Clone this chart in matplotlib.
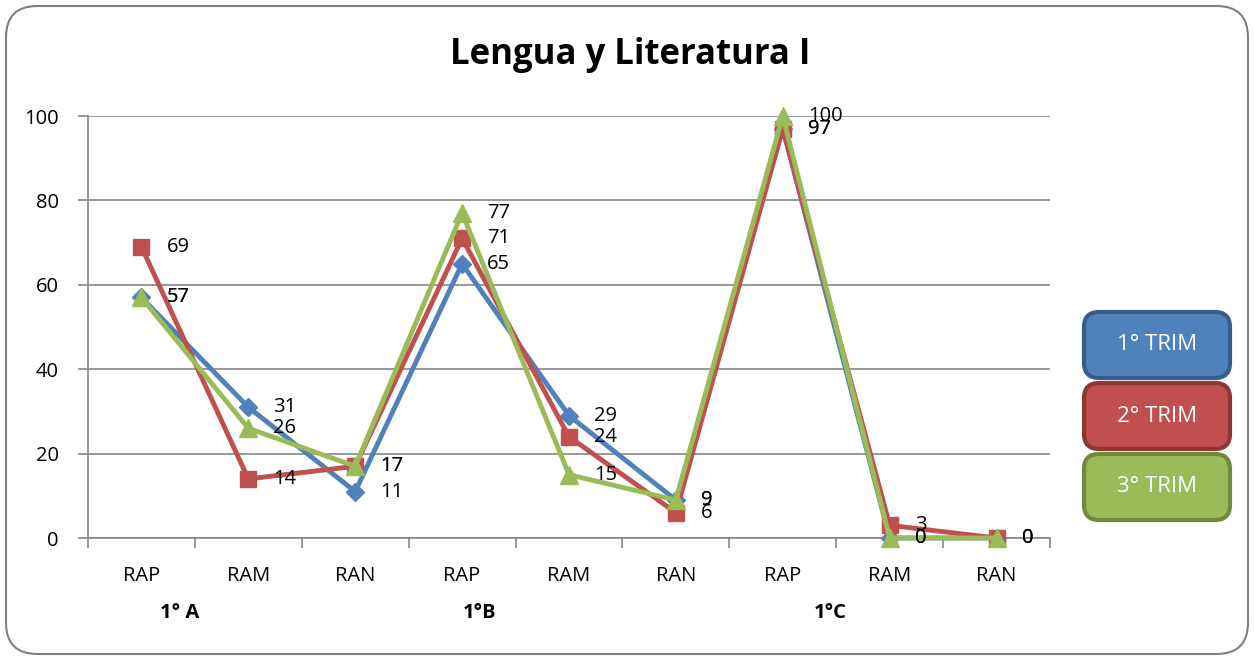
import matplotlib.pyplot as plt
from matplotlib.patches import FancyBboxPatch

# data
categories = ['RAP', 'RAM', 'RAN', 'RAP', 'RAM', 'RAN', 'RAP', 'RAM', 'RAN']
groups = ['1° A', '1°B', '1°C']
trim1 = [57, 31, 11, 65, 29, 9, 97, 0, 0]
trim2 = [69, 14, 17, 71, 24, 6, 97, 3, 0]
trim3 = [57, 26, 17, 77, 15, 9, 100, 0, 0]
series_names = ['1° TRIM', '2° TRIM', '3° TRIM']

colors = ['#4F81BD', '#C0504D', '#9BBB59']
edges = ['#385D8A', '#8C3836', '#71893F']
markers = ['D', 's', '^']
msizes = [9, 12, 13]

plt.rcParams['font.family'] = ['Open Sans', 'DejaVu Sans']

fig = plt.figure(figsize=(12.54, 6.6), dpi=100)
W, H = 1254, 660

# outer rounded frame
frame = FancyBboxPatch((6 / W, 6 / H), 1 - 12 / W, 1 - 12 / H,
                       boxstyle='round,pad=0,rounding_size=0.025',
                       transform=fig.transFigure, fill=False,
                       edgecolor='#808080', linewidth=1.5, mutation_aspect=W / H)
fig.patches.append(frame)

ax = fig.add_axes([88 / W, 1 - 538 / H, (1050 - 88) / W, (538 - 116) / H])
x = list(range(len(categories)))

for vals, c, m, ms in zip([trim1, trim2, trim3], colors, markers, msizes):
    ax.plot(x, vals, color=c, lw=3.5, marker=m, markersize=ms,
            markerfacecolor=c, markeredgecolor=c, zorder=3, clip_on=False)
    for xi, v in zip(x, vals):
        ax.annotate(str(v), (xi, v), xytext=(18, 0), textcoords='offset points',
                    va='center', ha='left', fontsize=14.5, color='black', zorder=4)

ax.set_xlim(-0.5, len(categories) - 0.5)
ax.set_ylim(0, 100)
ax.set_yticks([0, 20, 40, 60, 80, 100])
ax.set_yticklabels(['0', '20', '40', '60', '80', '100'], fontsize=14.5)
ax.yaxis.grid(True, color='#868686', lw=1.2)
ax.set_axisbelow(True)
for s in ['top', 'right']:
    ax.spines[s].set_visible(False)
for s in ['left', 'bottom']:
    ax.spines[s].set_color('#868686')
    ax.spines[s].set_linewidth(1.2)

ax.set_xticks(x)
ax.set_xticklabels(categories, fontsize=14.5)
ax.tick_params(axis='x', length=0, pad=20)
ax.set_xticks([i - 0.5 for i in range(len(categories) + 1)], minor=True)
ax.tick_params(axis='x', which='minor', length=7, color='#868686', width=1.2)
ax.tick_params(axis='y', length=7, color='#868686', width=1.2, pad=14)

# group labels
for gx, g in zip([180, 480, 830], groups):
    fig.text(gx / W, 1 - 613 / H, g, ha='center', va='center',
             fontsize=14.5, fontweight='bold')

fig.text(630 / W, 1 - 55 / H, 'Lengua y Literatura I', ha='center', va='center',
         fontsize=25, fontweight='bold')

# legend boxes
box_y = [310, 381, 452]
for by, name, c, e in zip(box_y, series_names, colors, edges):
    b = FancyBboxPatch((1084 / W, 1 - (by + 68) / H), 146 / W, 66 / H,
                       boxstyle='round,pad=0,rounding_size=0.012',
                       transform=fig.transFigure, facecolor=c, edgecolor=e,
                       linewidth=3, mutation_aspect=W / H)
    fig.patches.append(b)
    fig.text(1157 / W, 1 - (by + 35) / H, name, ha='center', va='center',
             fontsize=16, color='white')

fig.savefig('out.png', dpi=100)
